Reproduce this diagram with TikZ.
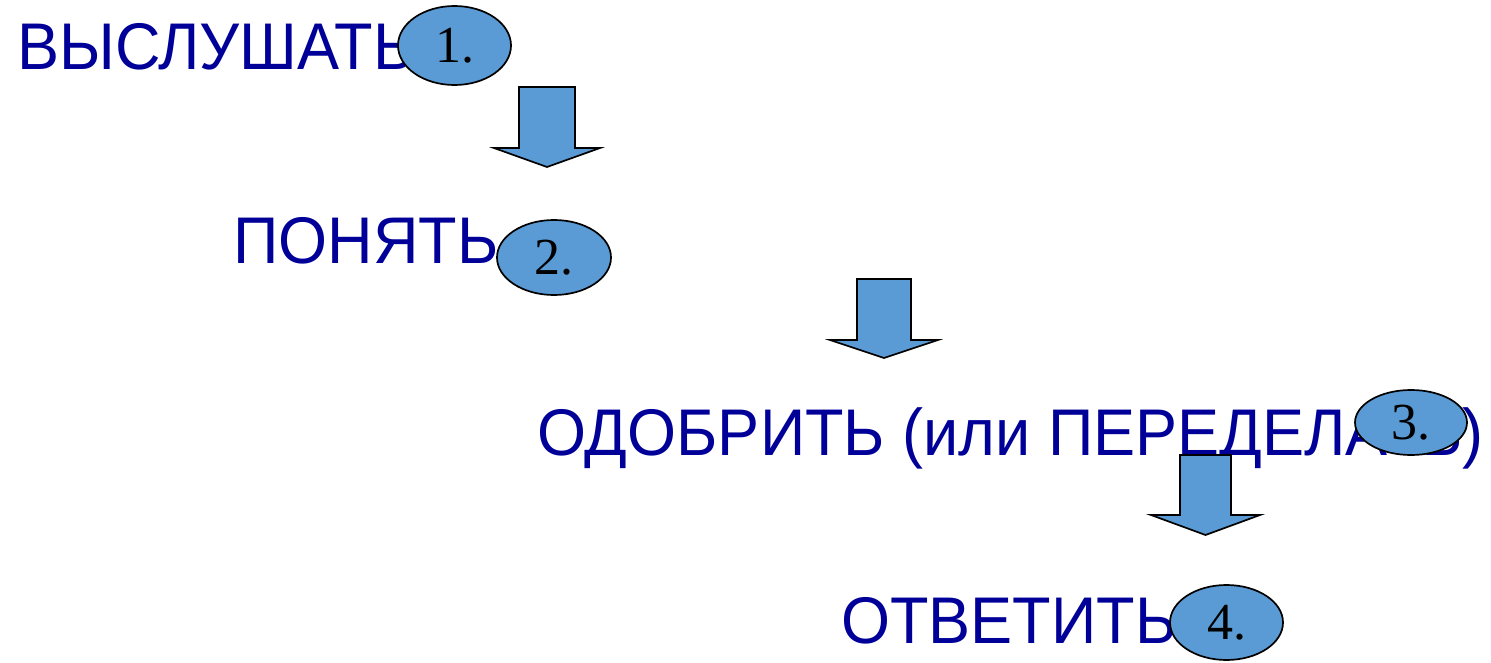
\documentclass[tikz,border=0pt]{standalone}
\usepackage{fontspec}
\setmainfont{Liberation Sans}
\newfontfamily\stepfont[FakeStretch=0.955]{Liberation Sans}
\newfontfamily\numfont{Liberation Serif}
\usetikzlibrary{shapes.geometric}
\definecolor{stepblue}{RGB}{0,0,153}
\definecolor{badgefill}{RGB}{91,155,213}
\tikzset{
  steptext/.style={anchor=base west, inner sep=0pt, text=stepblue,
    font=\stepfont\fontsize{66}{66}\selectfont},
  badge/.style={ellipse, draw=black, line width=1.7pt, fill=badgefill,
    inner sep=0pt, font=\numfont\fontsize{52}{52}\selectfont},
  blockarrow/.style={draw=black, line width=1.7pt, fill=badgefill, line join=miter}
}
% downward block arrow: centre x, top y, shaft bottom y, tip y, half shaft width, half head width
\newcommand{\downarrowblock}[6]{%
  \path[blockarrow] (#1-#5,#2) -- (#1+#5,#2) -- (#1+#5,#3) -- (#1+#6,#3)
    -- (#1,#4) -- (#1-#6,#3) -- (#1-#5,#3) -- cycle;}
\begin{document}
\begin{tikzpicture}[x=1pt,y=-1pt]
  \useasboundingbox (0,0) rectangle (1491,663);
  % step captions
  \node[steptext] (s1) at (17,70) {ВЫСЛУШАТЬ};
  \node[steptext] (s2) at (233,263) {ПОНЯТЬ};
  \node[steptext] (s3) at (537,455) {ОДОБРИТЬ (или ПЕРЕДЕЛАТЬ)};
  \node[steptext] (s4) at (841,643) {ОТВЕТИТЬ};
  % arrows between the steps
  \downarrowblock{547}{87}{148}{167}{28}{53}
  \downarrowblock{884}{279}{340}{358}{27}{54}
  \downarrowblock{1205.5}{455}{515}{535}{25.5}{54.5}
  % numbered badges
  \node[badge, minimum width=113pt, minimum height=79pt] (b1) at (454.5,45.5) {1.};
  \node[badge, minimum width=114pt, minimum height=75pt] (b2) at (554,257.5) {2.};
  \node[badge, minimum width=112pt, minimum height=65pt] (b3) at (1411,422.5) {3.};
  \node[badge, minimum width=113pt, minimum height=75pt] (b4) at (1226.5,622.5) {4.};
\end{tikzpicture}
\end{document}
